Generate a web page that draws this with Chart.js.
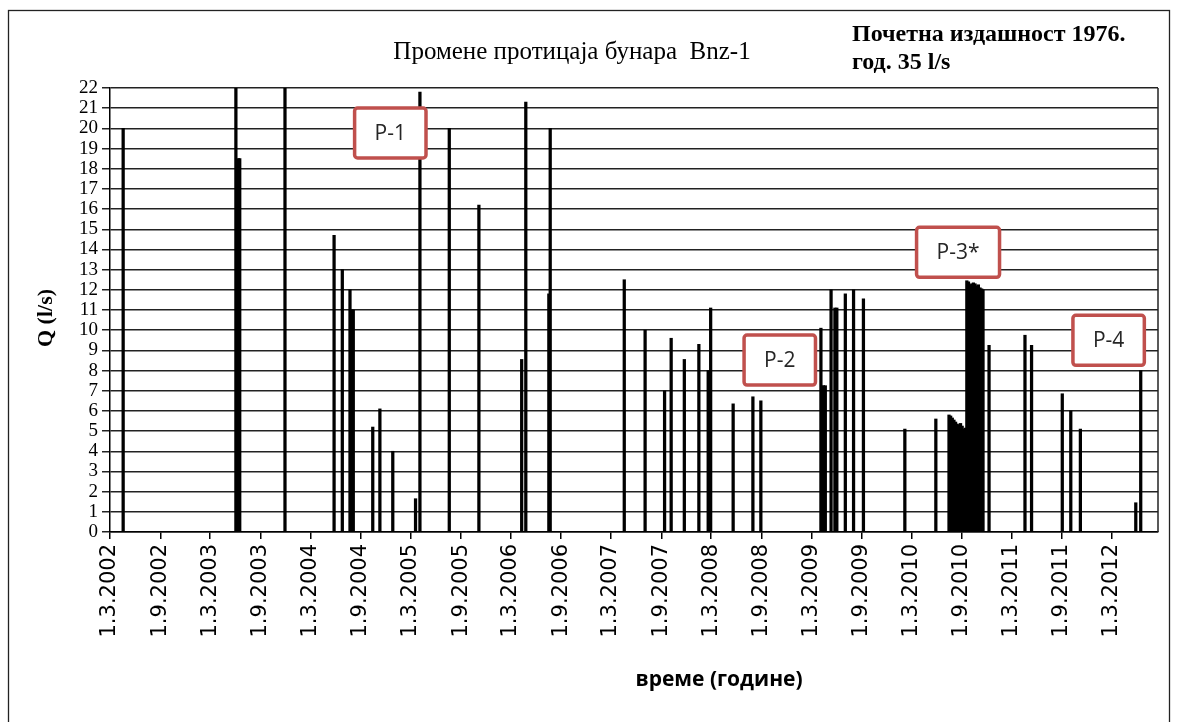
<!DOCTYPE html>
<html>
<head>
<meta charset="utf-8">
<title>Bnz-1</title>
<script src="https://cdn.jsdelivr.net/npm/chart.js@4.4.0/dist/chart.umd.min.js"></script>
<style>
    html, body { margin: 0; padding: 0; background: #fff; }
    #wrap { width: 1177px; height: 722px; }
</style>
</head>
<body>
<div id="wrap"><canvas id="flowChart" width="1177" height="722"></canvas></div>
<script>
// Mjerenja protoka bunara Bnz-1 (datum, Q u l/s)
var sampleDates = [
    '2002-04-18',
    '2003-06-03', '2003-06-12', '2003-06-17', '2003-11-29',
    '2004-05-26', '2004-06-25', '2004-07-23', '2004-07-30', '2004-08-04',
    '2004-10-14', '2004-11-09', '2004-12-26',
    '2005-03-19', '2005-04-04', '2005-07-20', '2005-11-05',
    '2006-04-10', '2006-04-25', '2006-07-18', '2006-07-23',
    '2007-04-19', '2007-07-04', '2007-09-13', '2007-10-07', '2007-11-24',
    '2008-01-16', '2008-02-19', '2008-02-28', '2008-05-20', '2008-07-31', '2008-08-29',
    '2009-04-05', '2009-04-14', '2009-04-21', '2009-05-12', '2009-05-26', '2009-06-02',
    '2009-07-03', '2009-08-02', '2009-09-07',
    '2010-02-05', '2010-05-29',
    // gusta serija ljeto 2010
    '2010-07-16', '2010-07-22', '2010-07-28', '2010-08-03', '2010-08-09', '2010-08-15',
    '2010-08-21', '2010-08-27', '2010-09-02', '2010-09-08', '2010-09-14',
    '2010-09-19', '2010-09-25', '2010-10-01', '2010-10-07', '2010-10-13', '2010-10-19',
    '2010-10-25', '2010-10-31', '2010-11-06', '2010-11-12', '2010-11-17',
    '2010-12-09',
    '2011-04-19', '2011-05-13', '2011-09-02', '2011-10-03', '2011-11-07',
    '2012-05-27', '2012-06-14'
];

var flowValues = [
    20,
    22, 18.5, 18.5, 22,
    14.7, 13, 12, 11, 11,
    5.2, 6.1, 4,
    1.65, 21.8, 20, 16.2,
    8.55, 21.3, 11.8, 20,
    12.5, 10, 7, 9.6, 8.55,
    9.3, 8, 11.1, 6.35, 6.7, 6.5,
    10.1, 7.25, 7.25, 12, 11.1, 11.1,
    11.8, 12, 11.55,
    5.1, 5.6,
    5.8, 5.75, 5.65, 5.55, 5.45, 5.35,
    5.3, 5.38, 5.25, 5.1, 5.15,
    12.45, 12.4, 12.25, 12.3, 12.35, 12.3,
    12.2, 12.25, 12.1, 12.05, 12.0,
    9.25,
    9.75, 9.25, 6.85, 6, 5.1,
    1.45, 8
];

var tickLabels = [
    '1.3.2002', '1.9.2002', '1.3.2003', '1.9.2003', '1.3.2004', '1.9.2004',
    '1.3.2005', '1.9.2005', '1.3.2006', '1.9.2006', '1.3.2007', '1.9.2007',
    '1.3.2008', '1.9.2008', '1.3.2009', '1.9.2009', '1.3.2010', '1.9.2010',
    '1.3.2011', '1.9.2011', '1.3.2012'
];

var axisStart = '1.3.2002';
var axisEnd = '16.8.2012';

// oznake perioda
var periodLabels = ['P-1', 'P-2', 'P-3*', 'P-4'];
var periodDates = ['2004-12-17', '2008-11-06', '2010-08-18', '2012-02-18'];
var periodValues = [19.77, 8.52, 13.86, 9.5];

function dotDate(s) {
    var p = s.split('.');
    return Date.UTC(+p[2], +p[1] - 1, +p[0]);
}

var tickTimes = tickLabels.map(dotDate);

var points = sampleDates.map(function (d, i) {
    return { x: Date.parse(d), y: flowValues[i] };
});

var decor = {
    id: 'decor',
    beforeDraw: function (chart) {
        var ctx = chart.ctx;
        ctx.save();
        ctx.fillStyle = '#fff';
        ctx.fillRect(0, 0, chart.width, chart.height);
        ctx.restore();
    },
    afterDraw: function (chart) {
        var ctx = chart.ctx;
        var a = chart.chartArea;
        var xs = chart.scales.x, ys = chart.scales.y;
        ctx.save();

        // desna ivica grafika
        ctx.strokeStyle = '#222';
        ctx.lineWidth = 1.5;
        ctx.beginPath();
        ctx.moveTo(a.right, a.top);
        ctx.lineTo(a.right, a.bottom);
        ctx.stroke();

        // okvir
        ctx.strokeStyle = '#222';
        ctx.lineWidth = 1.3;
        ctx.strokeRect(8.5, 10.5, 1161, 740);

        ctx.fillStyle = '#000';
        ctx.textAlign = 'center';
        ctx.textBaseline = 'middle';
        ctx.font = '25px "Liberation Serif"';
        ctx.fillText('Промене протицаја бунара  Bnz-1', 572, 52);

        ctx.textAlign = 'left';
        ctx.font = 'bold 24px "Liberation Serif"';
        ctx.fillText('Почетна издашност 1976.', 852, 35);
        ctx.fillText('год. 35 l/s', 852, 63);

        ctx.textAlign = 'center';
        ctx.font = 'bold 21px "Open Sans"';
        ctx.fillText('време (године)', 719, 680);

        ctx.save();
        ctx.translate(46, 318);
        ctx.rotate(-Math.PI / 2);
        ctx.font = 'bold 22px "Liberation Serif"';
        ctx.fillText('Q (l/s)', 0, 0);
        ctx.restore();

        // P okviri
        ctx.font = '21px "Open Sans"';
        periodLabels.forEach(function (t, i) {
            var cx = xs.getPixelForValue(Date.parse(periodDates[i]));
            var cy = ys.getPixelForValue(periodValues[i]);
            var w = ctx.measureText(t).width + 40, h = 50;
            ctx.beginPath();
            ctx.roundRect(cx - w / 2, cy - h / 2, w, h, 3);
            ctx.fillStyle = '#fff';
            ctx.fill();
            ctx.lineWidth = 3.5;
            ctx.strokeStyle = '#c0504d';
            ctx.stroke();
            ctx.fillStyle = '#262626';
            ctx.fillText(t, cx, cy + 1);
        });

        ctx.restore();
    }
};

var chart = new Chart(document.getElementById('flowChart'), {
    type: 'bar',
    data: {
        datasets: [{
            data: points,
            backgroundColor: '#000',
            borderWidth: 0,
            barThickness: 2.6
        }]
    },
    options: {
        responsive: false,
        animation: false,
        layout: { padding: { top: 88, right: 19, left: 0, bottom: 0 } },
        plugins: {
            legend: { display: false },
            tooltip: { enabled: false }
        },
        scales: {
            x: {
                type: 'linear',
                offset: false,
                min: dotDate(axisStart),
                max: dotDate(axisEnd),
                afterBuildTicks: function (s) {
                    s.ticks = tickTimes.map(function (v) { return { value: v }; });
                },
                afterFit: function (s) { s.height = 190; },
                ticks: {
                    autoSkip: false,
                    minRotation: 90,
                    maxRotation: 90,
                    padding: 5,
                    color: '#000',
                    font: { family: '"DejaVu Sans"', size: 21 },
                    callback: function (v, i) { return tickLabels[i]; }
                },
                grid: { drawOnChartArea: false, offset: false, tickLength: 7, color: '#000', lineWidth: 1.5 },
                border: { color: '#000', width: 1.5 }
            },
            y: {
                min: 0,
                max: 22,
                afterFit: function (s) { s.width = 110; },
                ticks: {
                    stepSize: 1,
                    autoSkip: false,
                    padding: 4,
                    color: '#000',
                    font: { family: '"Liberation Serif"', size: 19 }
                },
                grid: { color: '#222', lineWidth: 1.5, tickLength: 8 },
                border: { color: '#000', width: 1.5 }
            }
        }
    },
    plugins: [decor]
});
</script>
</body>
</html>
